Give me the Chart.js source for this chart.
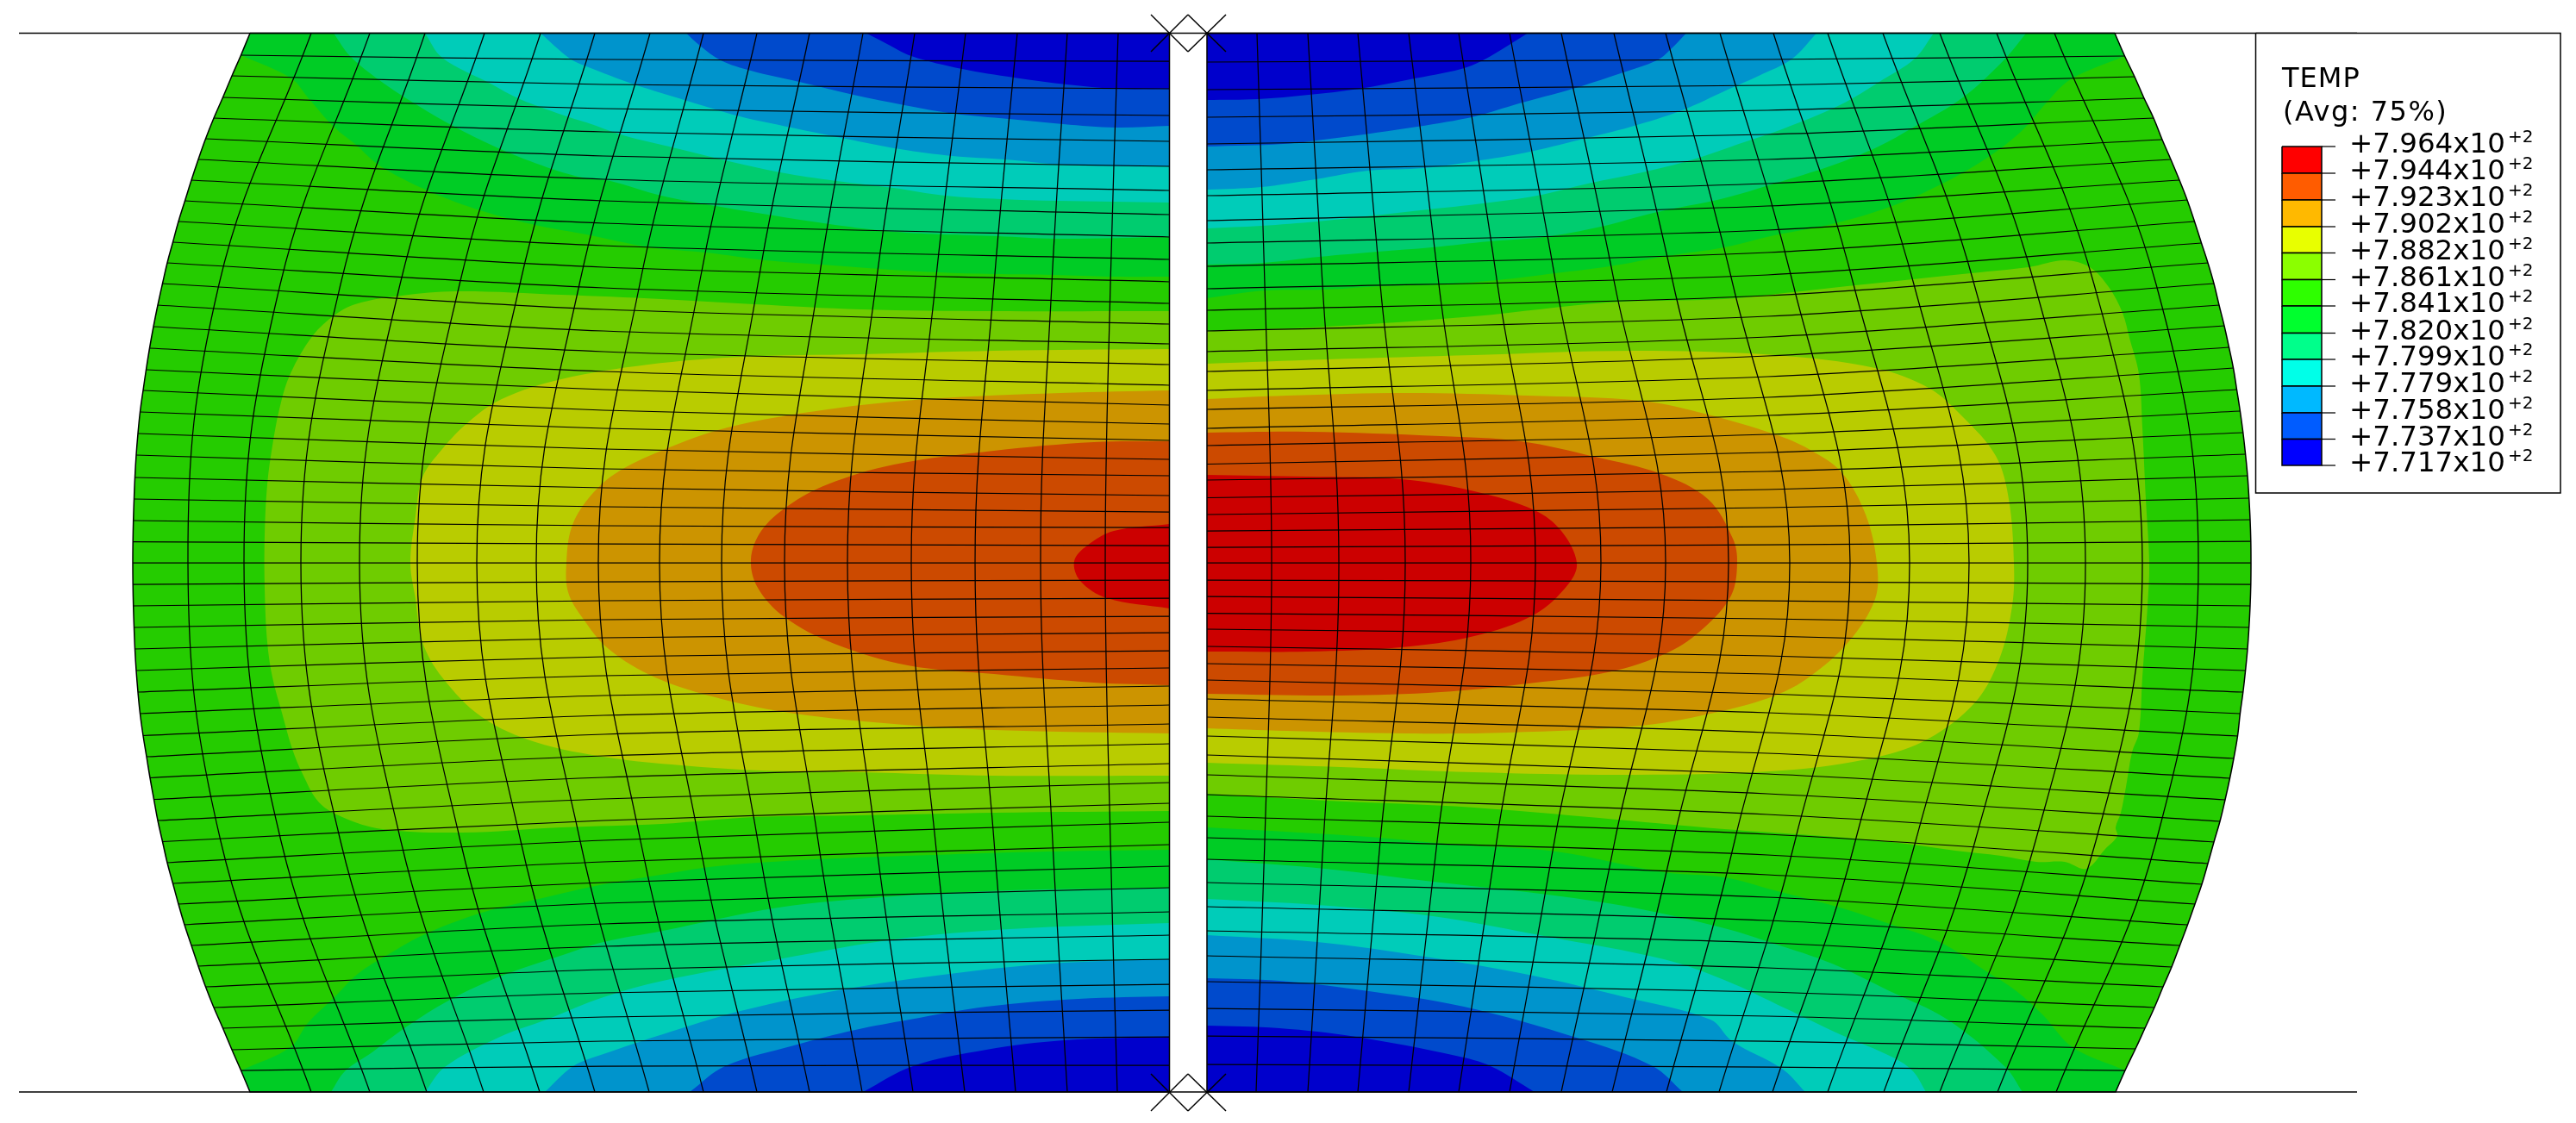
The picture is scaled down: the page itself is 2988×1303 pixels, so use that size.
<!DOCTYPE html>
<html>
<head>
<meta charset="utf-8">
<title>TEMP</title>
<script src="https://cdn.jsdelivr.net/npm/chart.js@4"></script>
<style>
  html, body { margin: 0; padding: 0; background: #fff; }
  canvas { display: block; }
</style>
</head>
<body>
<canvas id="mycanvas" width="2988" height="1303"></canvas>
<script>
// legend
var legendTitle = ["TEMP", "(Avg: 75%)"];
var legendLabels = ["+7.964", "+7.944", "+7.923", "+7.902", "+7.882", "+7.861", "+7.841", "+7.820", "+7.799", "+7.779", "+7.758", "+7.737", "+7.717"];
var legendTicks = [170, 201, 232, 263, 293.5, 324.5, 355, 386.5, 417, 448, 479, 509.5, 540];
var legendColors = ["#ff0000", "#ff5c00", "#ffb900", "#e8ff00", "#8bff00", "#2eff00", "#00ff2e", "#00ff8b", "#00ffe8", "#00b9ff", "#005cff", "#0000ff"];

// mesh: rows, outer edge then mid span then gap side
var leftOuterX = [290,279.5,269,258.5,248,238.5,230,222,214.5,207,200.5,194,188.5,183,178,173.5,169.5,166,162.5,160,158,156.5,155.5,154.7,154.2,154,154.2,154.7,155.5,156.5,158,160,162.5,166,170,174,178.5,183,188.5,194,200.5,207,214,222,230,238.5,248,258.5,269,279.5,290];
var leftOuterY = [38.5,64,88,113,137,161,185,209,233,257,281,305,329,354,379,404,429,453,478,503,528,554,579,604,628.5,653,678,703,728,753,778,803,828,853.5,878,902.5,927.5,952,976.5,1001,1025,1049,1073,1097,1121,1145,1169,1193,1218,1242,1267];
var leftMidY = [38.5,69,98,126,153,181,208,233,259,285,310,334,359,384,408,431,452,476,497,521,544,566,588,610,631,653,675,697,719,740,762,784,807,830,852,877,902,927,952,975,1000,1024,1048,1072,1098,1125,1152,1180,1208,1237,1267];
var leftGapY = [38.5,71,103,134,164,193,221,249,275,301,327,352,376,399,423,447,470,492,511,533,552,575,594,612,633,653,673,694,715,734,755,775,796,818,840,863,886,908,932,954,980,1005,1030,1058,1085,1113,1142,1172,1203,1236,1267];

var rightOuterX = [2453,2464.5,2476,2487,2498,2508,2518,2528,2537,2545.5,2553.5,2561,2568,2574,2580,2585.5,2590.5,2594.5,2598.4,2601.8,2604.6,2607,2608.7,2610,2610.8,2611,2610.8,2610,2608.7,2607,2604.6,2601.8,2598.4,2595.5,2591,2586.5,2581,2575,2568,2561,2554,2546,2537.5,2528.5,2519,2509,2499,2488,2477,2465,2454];
var rightOuterY = [38.5,65,89,114,137,162,185,209,232,257,282,305,329,354,378,403,427,452,477,502,527,552,578,603,628,653,678,703,728,753,778,803,828,854,880,903,928,953,977,1002,1026,1049,1073,1097,1122,1145,1169,1193,1217,1242,1267];
var rightMidY = [38.5,69,99,128,156,185,213,239,267,293,319,343,367,391,413,437,461,482,504,525,547,568,589,611,632,653,675,697,718,738,761,782,805,827,850,874,898,921,945,968,992,1015,1041,1068,1094,1123,1151,1179,1208,1238,1267];
var rightGapY = [38.5,72,104,136,167,197,227,256,282,309,335,360,384,408,431,453,475,497,517,538.5,557,577.5,597,616,635,653,673,692,711.5,730,750,770,789,811,832,854,876,899,922,947,972,997,1024,1052,1080,1109,1139,1170,1202,1235,1267];

// mesh: columns, read at five heights
var colHeights = [38.5, 330, 653, 976, 1267];
var leftColTop = [361,429,493,562,627,690,754,816,878,939,1001,1061,1120,1180,1238,1297];
var leftColUpper = [254,325,395,464,533,603,672,742,811,879,949,1016,1085,1153,1220,1288];
var leftColMid = [218,283,349,417,484,553,622,694,765,837,910,983,1057,1131,1207,1282];
var leftColLower = [256,326,395,465,534,604,673,743,811,879,949,1016,1085,1153,1221,1288];
var leftColBottom = [361,429,495,561,626,690,753,816,878,939,1000,1059,1119,1178,1238,1296];
var rightColTop = [1458,1517,1575,1634,1692,1751,1811,1872,1932,1995,2057,2120,2184,2250,2316,2383];
var rightColUpper = [1467,1534,1601,1669,1737,1805,1873,1941,2010,2080,2150,2220,2290,2360,2429,2501];
var rightColMid = [1475,1553,1630,1706,1781,1857,1932,2005,2076,2146,2215,2284,2352,2419,2485,2550];
var rightColLower = [1467,1535,1601,1667,1736,1803,1873,1941,2012,2082,2152,2222,2291,2361,2431,2501];
var rightColBottom = [1457,1517,1575,1634,1692,1751,1811,1870,1933,1994,2056,2120,2185,2250,2317,2385];

// temperature bands, left half
var leftTopG2 = [[279.5,64],[338,91],[357,113],[387,147],[413,168],[440,192],[498,222],[560,245],[625,262],[680,272],[754,287],[819,293],[888,302],[953,307],[1020,312],[1088,316],[1153,318],[1222,319],[1287,321],[1356.5,321],[1356.5,38.5],[290,38.5]];
var leftTopT1 = [[387,38.5],[406,65],[440,93],[484,122],[529,148],[585,175],[643,197],[680,207],[708,210],[767,227],[836,240],[897,250],[962,260],[1027,268],[1092,272],[1157,274],[1224,277],[1356.5,275],[1356.5,38.5]];
var leftTopT2 = [[493,38.5],[513,67],[569,97],[603,115],[663,137],[680,142],[723,157],[784,172],[845,187],[905,200],[970,210],[1036,218],[1096,227],[1161,231],[1226,233],[1356.5,235],[1356.5,38.5]];
var leftTopB1 = [[627,38.5],[661,68],[680,77],[736,98],[797,117],[858,135],[918,148],[981,161],[1044,173],[1105,181],[1166,185],[1231,191],[1298,193],[1356.5,193],[1356.5,38.5]];
var leftTopB2 = [[796,38.5],[812,53],[836,70],[871,82],[927,95],[990,110],[1049,122],[1107,132],[1170,138],[1233,144],[1294,148],[1356.5,146],[1356.5,38.5]];
var leftTopB3 = [[1005,38.5],[1027,50],[1057,65],[1116,80],[1176,90],[1237,98],[1296,103],[1356.5,103],[1356.5,38.5]];
var leftBottomG2 = [[279.5,1242],[337,1215],[357,1187],[388,1157],[415,1130],[451,1107],[495,1083],[562,1058],[625,1043],[700,1026],[760,1016],[832,1005],[948,997],[1082,992],[1216,988],[1356.5,986],[1356.5,1267],[290,1267]];
var leftBottomT1 = [[384,1267],[400,1243],[433,1220],[469,1193],[522,1160],[580,1133],[647,1110],[700,1093],[769,1080],[903,1053],[1037,1040],[1171,1033],[1356.5,1030],[1356.5,1267]];
var leftBottomT2 = [[493,1267],[516,1238],[580,1203],[634,1183],[700,1157],[769,1138],[903,1113],[1037,1090],[1171,1078],[1356.5,1071],[1356.5,1267]];
var leftBottomB1 = [[632,1267],[665,1237],[700,1223],[769,1200],[859,1173],[984,1147],[1126,1127],[1234,1117],[1356.5,1113],[1356.5,1267]];
var leftBottomB2 = [[800,1267],[841,1237],[921,1213],[992,1195],[1055,1183],[1144,1168],[1251,1159],[1356.5,1156],[1356.5,1267]];
var leftBottomB3 = [[1001,1267],[1059,1237],[1144,1218],[1234,1207],[1356.5,1203],[1356.5,1267]];
var leftYG = [[1356.5,361],[1153,361],[999,359],[875,353],[767,347],[651,342],[536,338],[474,342],[412,353],[381,371],[358,396],[335,438],[324,475],[316,517],[310,562],[307,620],[307,682],[310,745],[316,786],[327,827],[339,869],[351,898],[370,931],[397,948],[443,962],[536,966],[651,960],[767,956],[875,948],[999,946],[1153,943],[1356.5,941]];
var leftY = [[1356.5,405],[1153,407],[999,411],[860,414],[752,423],[651,440],[582,463],[543,490],[513,521],[490,554],[482,599],[476,653],[482,695],[490,745],[513,786],[559,832],[621,861],[706,879],[790,888],[883,894],[999,896],[1153,900],[1356.5,900]];
var leftO = [[1356.5,453],[1230,456],[1076,463],[960,475],[844,496],[767,523],[713,550],[682,579],[663,612],[657,653],[659,687],[675,716],[706,753],[760,786],[837,811],[922,828],[1037,840],[1153,847],[1356.5,851]];
var leftOR = [[1356.5,512],[1269,513],[1153,523],[1037,539],[960,562],[914,587],[883,616],[871,649],[879,682],[910,716],[968,747],[1053,772],[1153,782],[1269,792],[1356.5,795]];
var leftR = [[1356.5,608],[1292,616],[1261,633],[1246,651],[1253,674],[1284,694],[1356.5,706]];

// temperature bands, right half
var rightTopG2 = [[1400,346],[1467,337],[1535,336],[1602,332],[1669,330],[1737,325],[1804,317],[1867,309],[1934,297],[2000,287],[2058,273],[2125,260],[2192,240],[2245,217],[2299,187],[2344,153],[2373,120],[2402,92],[2464.5,65],[2453,38.5],[1400,38.5]];
var rightTopT1 = [[1400,307],[1465,305],[1530,298],[1598,292],[1661,287],[1728,280],[1791,275],[1857,263],[1918,247],[2000,230],[2058,213],[2125,192],[2179,170],[2219,148],[2277,113],[2326,68],[2350,38.5],[1400,38.5]];
var rightTopT2 = [[1400,265],[1463,262],[1528,257],[1594,250],[1657,243],[1720,236],[1783,227],[1842,213],[1905,200],[1964,185],[2023,165],[2067,150],[2134,122],[2183,93],[2221,68],[2243,38.5],[1400,38.5]];
var rightTopB1 = [[1400,220],[1463,217],[1526,208],[1587,198],[1652,195],[1711,187],[1770,177],[1833,162],[1892,147],[1951,128],[2004,104],[2040,88],[2079,68],[2107,38.5],[1400,38.5]];
var rightTopB2 = [[1400,170],[1488,167],[1551,160],[1644,147],[1711,135],[1762,120],[1821,104],[1880,85],[1922,70],[1937,58],[1956,38.5],[1400,38.5]];
var rightTopB3 = [[1400,116],[1459,115],[1518,110],[1577,103],[1636,92],[1695,80],[1720,70],[1749,53],[1772,38.5],[1400,38.5]];
var rightBottomG2 = [[1400,960],[1573,970],[1689,980],[1805,988],[1930,1012],[2000,1018],[2058,1033],[2134,1053],[2192,1072],[2250,1093],[2304,1127],[2339,1150],[2370,1178],[2404,1215],[2465,1242],[2454,1267],[1400,1267]];
var rightBottomT1 = [[1400,997],[1537,1008],[1662,1023],[1787,1037],[1894,1053],[2000,1077],[2058,1095],[2125,1118],[2192,1150],[2259,1183],[2326,1238],[2346,1267],[1400,1267]];
var rightBottomT2 = [[1400,1043],[1528,1050],[1662,1063],[1796,1087],[1930,1113],[2000,1137],[2071,1170],[2134,1200],[2196,1227],[2219,1243],[2234,1267],[1400,1267]];
var rightBottomB1 = [[1400,1085],[1528,1093],[1653,1110],[1778,1132],[1885,1157],[1984,1183],[2009,1208],[2067,1240],[2094,1267],[1400,1267]];
var rightBottomB2 = [[1400,1135],[1484,1138],[1573,1148],[1698,1168],[1832,1205],[1917,1237],[1952,1267],[1400,1267]];
var rightBottomB3 = [[1400,1190],[1484,1193],[1573,1203],[1689,1225],[1729,1237],[1780,1267],[1400,1267]];
var rightYG = [[1400,384],[1539,379],[1710,367],[1865,351],[2000,347],[2080,339],[2152,331],[2286,317],[2353,310],[2395,302],[2424,310],[2446,333],[2462,363],[2470,392],[2481,434],[2485,496],[2489,579],[2493,653],[2491,703],[2485,786],[2481,850],[2473,873],[2466,913],[2460,943],[2454,960],[2456,970],[2442,985],[2420,1008],[2395,1000],[2362,1000],[2321,993],[2268,987],[2219,980],[2152,973],[2085,968],[2000,962],[1710,937],[1539,929],[1400,921]];
var rightY = [[1400,422],[1539,417],[1710,412],[1896,407],[2059,412],[2175,427],[2237,450],[2276,483],[2315,529],[2330,579],[2336,653],[2334,703],[2319,765],[2291,815],[2237,857],[2175,879],[2067,894],[1896,899],[1710,896],[1555,890],[1400,885]];
var rightO = [[1400,463],[1493,459],[1632,456],[1772,459],[1904,465],[1981,481],[2059,504],[2098,521],[2136,548],[2164,597],[2177,653],[2175,695],[2144,745],[2098,786],[2059,807],[1997,825],[1904,842],[1749,850],[1632,851],[1493,848],[1400,845]];
var rightOR = [[1400,502],[1516,501],[1671,506],[1764,512],[1850,530],[1927,550],[1981,579],[2010,625],[2015,653],[2008,691],[1977,728],[1935,757],[1865,780],[1764,794],[1671,803],[1555,807],[1400,805]];
var rightR = [[1400,551],[1516,553],[1625,556],[1710,570],[1780,592],[1811,616],[1829,653],[1819,678],[1780,713],[1710,738],[1625,751],[1516,756],[1400,756]];

// boundary lines and the gap markers
var edgeLines = [[[22,38.5],[2734,38.5]], [[22,1267],[2734,1267]]];
var markerLines = [
  [[1335,17],[1378,60]], [[1378,17],[1335,60]], [[1378,17],[1422,60]], [[1422,17],[1378,60]],
  [[1335,1246],[1378,1289]], [[1378,1246],[1335,1289]], [[1378,1246],[1422,1289]], [[1422,1246],[1378,1289]]
];

var BAND_G1 = "#25cc00", BAND_G2 = "#00cc25", BAND_T1 = "#00cc6f", BAND_T2 = "#00ccb9", BAND_B1 = "#0094cc", BAND_B2 = "#004acc", BAND_B3 = "#0000cc";
var BAND_YG = "#6fcc00", BAND_Y = "#b9cc00", BAND_O = "#cc9400", BAND_OR = "#cc4a00", BAND_R = "#cc0000";

var GAP_L = 1356.5, GAP_R = 1400, EDGE_T = 38.5, EDGE_B = 1267;
var MESH_W = 1.25, EDGE_W = 1.5;
var datasets = [];

function toPoints(list) {
  return list.map(function(p) { return {x: p[0], y: p[1]}; });
}
function zip(xs, ys) {
  return xs.map(function(x, i) { return [x, ys[i]]; });
}
function onArc(p) {
  var l = leftOuterX.indexOf(p[0]), r = rightOuterX.indexOf(p[0]);
  return (l >= 0 && leftOuterY[l] === p[1]) || (r >= 0 && rightOuterY[r] === p[1]);
}
// a doubled point keeps the spline from overshooting at a corner
function sharpen(list, cornerAtArc) {
  var out = [];
  list.forEach(function(p) {
    out.push(p);
    if (p[0] === GAP_L || p[0] === GAP_R || p[1] === EDGE_T || p[1] === EDGE_B || (cornerAtArc && onArc(p))) out.push(p);
  });
  return out;
}
function addFill(list, color, width, tension) {
  datasets.push({
    data: toPoints(list), showLine: true, fill: "shape", backgroundColor: color,
    borderColor: "#000", borderWidth: width || 0, pointRadius: 0, tension: tension || 0
  });
}
function addLine(list, width, tension) {
  datasets.push({
    data: toPoints(list), showLine: true, fill: false, borderColor: "#000",
    borderWidth: width, pointRadius: 0, tension: tension || 0
  });
}

var leftBody = sharpen(zip(leftOuterX, leftOuterY).concat([[GAP_L, EDGE_B], [GAP_L, EDGE_T]]), false);
var rightBody = sharpen(zip(rightOuterX, rightOuterY).concat([[GAP_R, EDGE_B], [GAP_R, EDGE_T]]), false);

// painted back to front
addFill(leftBody, BAND_G1, 0, 0.4);
addFill(rightBody, BAND_G1, 0, 0.4);
[
  [leftTopG2, BAND_G2], [leftTopT1, BAND_T1], [leftTopT2, BAND_T2], [leftTopB1, BAND_B1], [leftTopB2, BAND_B2], [leftTopB3, BAND_B3],
  [leftBottomG2, BAND_G2], [leftBottomT1, BAND_T1], [leftBottomT2, BAND_T2], [leftBottomB1, BAND_B1], [leftBottomB2, BAND_B2], [leftBottomB3, BAND_B3],
  [leftYG, BAND_YG], [leftY, BAND_Y], [leftO, BAND_O], [leftOR, BAND_OR], [leftR, BAND_R],
  [rightTopG2, BAND_G2], [rightTopT1, BAND_T1], [rightTopT2, BAND_T2], [rightTopB1, BAND_B1], [rightTopB2, BAND_B2], [rightTopB3, BAND_B3],
  [rightBottomG2, BAND_G2], [rightBottomT1, BAND_T1], [rightBottomT2, BAND_T2], [rightBottomB1, BAND_B1], [rightBottomB2, BAND_B2], [rightBottomB3, BAND_B3],
  [rightYG, BAND_YG], [rightY, BAND_Y], [rightO, BAND_O], [rightOR, BAND_OR], [rightR, BAND_R]
].forEach(function(b) { addFill(sharpen(b[0], true), b[1], 0, 0.35); });

// mesh rows
for (var i = 1; i < leftOuterX.length - 1; i++) {
  addLine([[leftOuterX[i], leftOuterY[i]], [700, leftMidY[i]], [GAP_L, leftGapY[i]]], MESH_W, 0.3);
  addLine([[GAP_R, rightGapY[i]], [2050, rightMidY[i]], [rightOuterX[i], rightOuterY[i]]], MESH_W, 0.3);
}
// mesh columns
for (var c = 0; c < leftColTop.length; c++) {
  addLine(zip([leftColTop[c], leftColUpper[c], leftColMid[c], leftColLower[c], leftColBottom[c]], colHeights), MESH_W, 0.4);
  addLine(zip([rightColTop[c], rightColUpper[c], rightColMid[c], rightColLower[c], rightColBottom[c]], colHeights), MESH_W, 0.4);
}
// outlines
addLine(leftBody.concat([leftBody[0]]), EDGE_W, 0.4);
addLine(rightBody.concat([rightBody[0]]), EDGE_W, 0.4);
edgeLines.forEach(function(l) { addLine(l, EDGE_W); });
markerLines.forEach(function(l) { addLine(l, EDGE_W); });

// legend box, colour cells and ticks
var BOX_L = 2616.5, BOX_R = 2970, BOX_T = 38.5, BOX_B = 572;
var BAR_L = 2647, BAR_R = 2693, TICK_R = 2709, LABEL_X = 2725;
addFill([[BOX_L, BOX_T], [BOX_R, BOX_T], [BOX_R, BOX_B], [BOX_L, BOX_B], [BOX_L, BOX_T]], "#fff", EDGE_W);
legendColors.forEach(function(color, n) {
  var t = legendTicks[n], b = legendTicks[n + 1];
  addFill([[BAR_L, t], [BAR_R, t], [BAR_R, b], [BAR_L, b], [BAR_L, t]], color, EDGE_W);
});
legendTicks.forEach(function(t) { addLine([[BAR_R, t], [TICK_R, t]], MESH_W); });

var legendText = {
  id: "legendText",
  afterDatasetsDraw: function(chart) {
    var ctx = chart.ctx, xs = chart.scales.x, ys = chart.scales.y;
    ctx.save();
    ctx.fillStyle = "#000";
    ctx.textBaseline = "alphabetic";
    ctx.font = '32px "DejaVu Sans"';
    ctx.letterSpacing = "1px";
    ctx.fillText(legendTitle[0], xs.getPixelForValue(BAR_L), ys.getPixelForValue(101));
    ctx.letterSpacing = "1.5px";
    ctx.fillText(legendTitle[1], xs.getPixelForValue(BAR_L + 1), ys.getPixelForValue(140));
    ctx.letterSpacing = "0px";
    legendLabels.forEach(function(label, n) {
      var y = legendTicks[n];
      ctx.font = '32.5px "DejaVu Sans"';
      ctx.fillText(label + "x10", xs.getPixelForValue(LABEL_X), ys.getPixelForValue(y + 7));
      ctx.font = '20px "DejaVu Sans"';
      ctx.fillText("+2", xs.getPixelForValue(LABEL_X + 184), ys.getPixelForValue(y - 5));
    });
    ctx.restore();
  }
};

// the first dataset ends up on top, so hand them over reversed
new Chart(document.getElementById("mycanvas"), {
  type: "scatter",
  data: { datasets: datasets.reverse() },
  plugins: [legendText],
  options: {
    indexAxis: "y",
    responsive: false,
    animation: false,
    devicePixelRatio: 1,
    layout: { padding: 0 },
    events: [],
    plugins: { legend: { display: false }, tooltip: { enabled: false }, title: { display: false } },
    scales: {
      x: { type: "linear", min: 0, max: 2988, display: false },
      y: { type: "linear", min: 0, max: 1303, reverse: true, display: false }
    }
  }
});
</script>
</body>
</html>
